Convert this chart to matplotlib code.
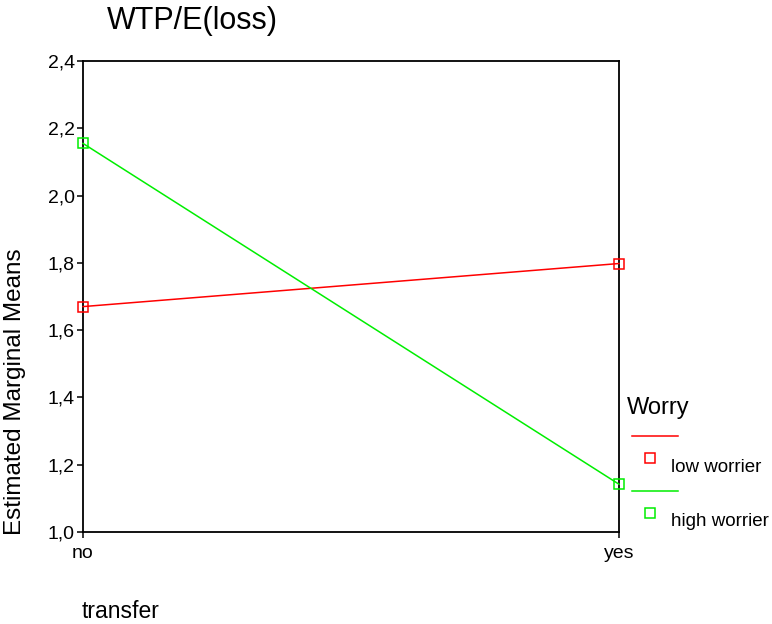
import matplotlib
matplotlib.use("Agg")
import matplotlib.pyplot as plt
from matplotlib.lines import Line2D
from matplotlib.ticker import FuncFormatter

# estimated marginal means of WTP/E(loss) by transfer and worry group
transfer = ['no', 'yes']
low_worrier = [1.670, 1.798]
high_worrier = [2.155, 1.142]
groups = ['low worrier', 'high worrier']
colors = ['#ff0000', '#00ee00']

plt.rcParams['font.family'] = ['Liberation Sans', 'DejaVu Sans']

W, H = 772, 624
fig = plt.figure(figsize=(W / 100, H / 100), dpi=100)
ax = fig.add_axes([83 / W, 1 - 532 / H, (619 - 83) / W, (532 - 61) / H])

xs = list(range(len(transfer)))
for vals, c in zip([low_worrier, high_worrier], colors):
    ax.plot(xs, vals, color=c, linewidth=1.1, marker='s', markersize=7.5,
            markerfacecolor='none', markeredgecolor=c, markeredgewidth=1.1,
            clip_on=False, zorder=3)

ax.set_xlim(0, 1)
ax.set_ylim(1.0, 2.4)
ax.set_xticks(xs)
ax.set_xticklabels(transfer)
ax.set_yticks([1.0, 1.2, 1.4, 1.6, 1.8, 2.0, 2.2, 2.4])
ax.yaxis.set_major_formatter(FuncFormatter(lambda v, p: f'{v:.1f}'.replace('.', ',')))
ax.tick_params(axis='both', direction='out', length=4, width=1.1, labelsize=14,
               colors='black')
ax.tick_params(axis='x', pad=5)
ax.tick_params(axis='y', pad=2)
for s in ax.spines.values():
    s.set_linewidth(1.3)

# titles and labels placed in figure pixels
fig.text(107 / W, 1 - 21 / H, 'WTP/E(loss)', fontsize=22, va='center', ha='left')
fig.text(15 / W, 1 - 392 / H, 'Estimated Marginal Means', fontsize=17.5,
         rotation=90, va='center', ha='center')
fig.text(82 / W, 1 - 612 / H, 'transfer', fontsize=16.5, va='center', ha='left')

# legend, SPSS style: line row then marker + label row
fig.text(627 / W, 1 - 408 / H, 'Worry', fontsize=17, va='center', ha='left')
rows = [(436, 458, 468), (491, 513, 522)]
for (ly, my, ty), g, c in zip(rows, groups, colors):
    fig.add_artist(Line2D([632 / W, 678 / W], [1 - ly / H, 1 - ly / H],
                          transform=fig.transFigure, color=c, linewidth=1.1))
    fig.add_artist(Line2D([650 / W], [1 - my / H], transform=fig.transFigure,
                          marker='s', markersize=7.5, markerfacecolor='none',
                          markeredgecolor=c, markeredgewidth=1.1, linestyle='none'))
    fig.text(671 / W, 1 - ty / H, g, fontsize=13.5, va='center', ha='left')

fig.savefig('out.png', dpi=100)
